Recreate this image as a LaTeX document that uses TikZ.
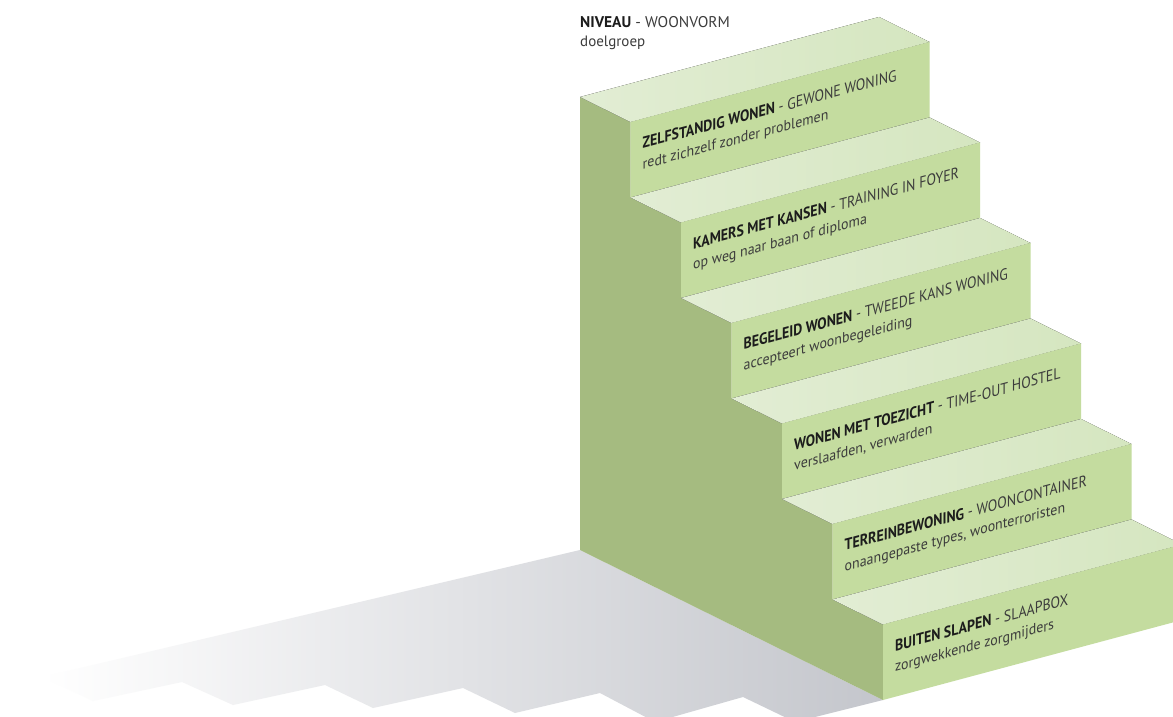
\documentclass[tikz,border=0pt]{standalone}
\usepackage{fontspec}
\setmainfont{PT Sans}
\definecolor{wall}{HTML}{A5BB80}
\definecolor{riser}{HTML}{C4DC9F}
\definecolor{treadL}{HTML}{E2EDD4}
\definecolor{treadD}{HTML}{D5E6C0}
\definecolor{shadowc}{HTML}{C4C6CC}
\definecolor{ink}{HTML}{1C1C1C}
\definecolor{inkgray}{HTML}{3C3C3C}
\tikzset{
  riserface/.style={fill=riser},
  treadface/.style={left color=treadL,right color=treadD},
  wallface/.style={fill=wall},
  shadowface/.style={left color=white,right color=shadowc},
  lbl/.style={text=inkgray, inner sep=0pt, anchor=base west},
  titlelbl/.style={lbl, font=\fontsize{16}{18}\selectfont, xscale=0.87, transform shape},
  sublbl/.style={lbl, font=\fontsize{15}{17}\selectfont, xscale=0.93, transform shape}
}
\newcommand{\bk}[1]{\textbf{\color{ink}#1}}
\begin{document}
\begin{tikzpicture}[x=1pt,y=-1pt]
\useasboundingbox (0,0) rectangle (1173,717);
\clip (0,0) rectangle (1173,717);
\fill[white] (0,0) rectangle (1173,717);
% cast shadow
\shade[shadowface] (580,550) -- (42,677) -- (93,701) -- (182,682) -- (233,705) -- (325,685) -- (373,708)
  -- (463,688) -- (515,713) -- (600,693) -- (655,722) -- (743,697) -- (795,722) -- (883,700) -- cycle;
% side wall
\fill[wallface] (580,97) -- (630.5,122) -- (630.5,197.5) -- (681,222.5) -- (681,298) -- (731.5,323)
  -- (731.5,398.5) -- (782,423.5) -- (782,499) -- (832.5,524) -- (832.5,599.5) -- (883,624.5)
  -- (883,700) -- (580,550) -- cycle;
% steps
\foreach \k/\bold/\rest/\sub in {
  0/{ZELFSTANDIG WONEN}/{GEWONE WONING}/{redt zichzelf zonder problemen},
  1/{KAMERS MET KANSEN}/{TRAINING IN FOYER}/{op weg naar baan of diploma},
  2/{BEGELEID WONEN}/{TWEEDE KANS WONING}/{accepteert woonbegeleiding},
  3/{WONEN MET TOEZICHT}/{TIME-OUT HOSTEL}/{verslaafden, verwarden},
  4/{TERREINBEWONING}/{WOONCONTAINER}/{onaangepaste types, woonterroristen},
  5/{BUITEN SLAPEN}/{SLAAPBOX}/{zorgwekkende zorgmijders}}{
  \pgfmathsetmacro\fx{630.5+50.5*\k}
  \pgfmathsetmacro\fy{122+100.5*\k}
  \fill[treadface] (\fx-50.5,\fy-25) -- (\fx,\fy) -- (\fx+299,\fy-80) -- (\fx+248.5,\fy-105) -- cycle;
  \fill[riserface] (\fx,\fy) -- (\fx+299,\fy-80) -- (\fx+299,\fy-4.5) -- (\fx,\fy+75.5) -- cycle;
  \begin{scope}[shift={(\fx,\fy)}, yslant=0.2676]
    \node[titlelbl] (t\k) at (12,30) {\bk{\bold} - \rest};
    \node[sublbl] (d\k) at (12,50.5) {\sub};
  \end{scope}
}
% header
\node[lbl, font=\fontsize{15.5}{18}\selectfont] (hd) at (580,28) {\bk{NIVEAU} - WOONVORM};
\node[lbl, font=\fontsize{15}{18}\selectfont] (hs) at (580,47) {doelgroep};
\end{tikzpicture}
\end{document}
